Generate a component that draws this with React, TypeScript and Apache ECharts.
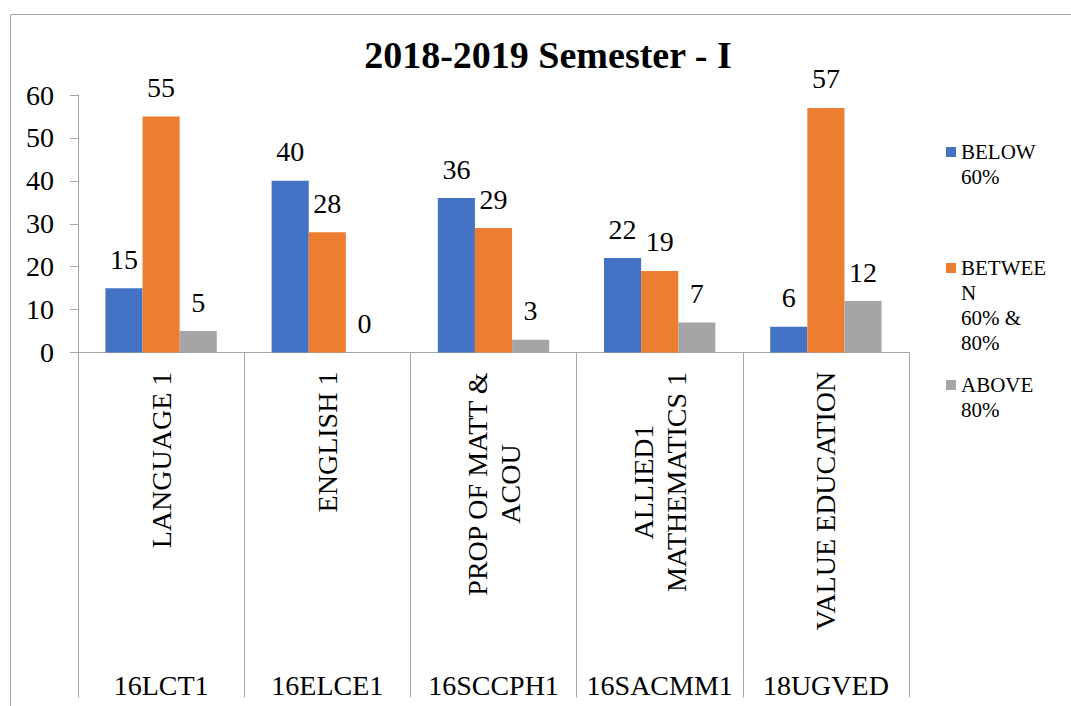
import React, { useEffect, useRef } from 'react';
import * as echarts from 'echarts';

const subjects = ['LANGUAGE 1', 'ENGLISH 1', 'PROP OF MATT &\nACOU', 'ALLIED1\nMATHEMATICS 1', 'VALUE EDUCATION'];
const codes = ['16LCT1', '16ELCE1', '16SCCPH1', '16SACMM1', '18UGVED'];
const seriesNames = ['BELOW 60%', 'BETWEEN 60% & 80%', 'ABOVE 80%'];
const legendLabels = ['BELOW\n60%', 'BETWEE\nN\n60% &\n80%', 'ABOVE\n80%'];
const below60 = [15, 40, 36, 22, 6];
const between60and80 = [55, 28, 29, 19, 57];
const above80 = [5, 0, 3, 7, 12];
const seriesColors = ['#4472C4', '#ED7D31', '#A5A5A5'];
const yMin = 0;
const yMax = 60;
const yInterval = 10;

const FONT = 'Liberation Serif';
const AXIS_GRAY = '#A6A6A6';

function measure(text: string, font: string): number {
  const ctx = document.createElement('canvas').getContext('2d');
  if (!ctx) return text.length * 14;
  ctx.font = font;
  return ctx.measureText(text).width;
}

export default function App() {
  const ref = useRef<HTMLDivElement>(null);

  useEffect(() => {
    if (!ref.current) return;
    const chart = echarts.init(ref.current, undefined, { renderer: 'svg' });

    const rich: Record<string, any> = {};
    subjects.forEach((s, i) => {
      const w = Math.max(...s.split('\n').map((l) => measure(l, `28px "${FONT}"`)));
      rich['l' + i] = {
        width: Math.ceil(w) + 2,
        align: 'center',
        fontSize: 28,
        lineHeight: 33,
        fontFamily: FONT,
        color: '#000',
      };
    });

    const LH = 25;
    const firstLineCenters = [152, 268, 385];
    const legends = seriesNames.map((name, i) => {
      const lines = legendLabels[i].split('\n');
      const n = lines.length;
      const padded = new Array(n - 1).fill(' ').concat(lines).join('\n');
      return {
        show: true,
        data: [name],
        left: 946,
        top: firstLineCenters[i] - ((2 * n - 1) * LH) / 2,
        orient: 'vertical',
        padding: 0,
        itemWidth: 10,
        itemHeight: 10,
        itemGap: 0,
        itemStyle: { borderWidth: 0 },
        icon: 'rect',
        selectedMode: false,
        formatter: () => padded,
        textStyle: {
          fontSize: 21,
          lineHeight: LH,
          fontFamily: FONT,
          color: '#000',
        },
      };
    });

    const values = [below60, between60and80, above80];

    chart.setOption({
      animation: false,
      backgroundColor: '#fff',
      textStyle: { fontFamily: FONT },
      title: {
        text: '2018-2019 Semester - I',
        left: 548,
        top: 36,
        padding: 0,
        textAlign: 'center',
        textStyle: { fontSize: 38, fontWeight: 'bold', fontFamily: FONT, color: '#000' },
      },
      legend: legends,
      graphic: [
        {
          type: 'rect',
          shape: { x: 10.5, y: 14.5, width: 1200, height: 800 },
          style: { fill: 'none', stroke: AXIS_GRAY, lineWidth: 1 },
          silent: true,
          z: -10,
        },
      ],
      grid: { left: 78, right: 162, top: 95, bottom: 353.5 },
      xAxis: [
        {
          type: 'category',
          data: subjects,
          position: 'bottom',
          axisLine: { show: true, lineStyle: { color: AXIS_GRAY, width: 1 } },
          axisTick: { show: true, interval: 0, length: 345, lineStyle: { color: AXIS_GRAY, width: 1 } },
          axisLabel: {
            interval: 0,
            rotate: 90,
            margin: 18,
            fontSize: 28,
            fontFamily: FONT,
            color: '#000',
            formatter: (v: string, idx: number) =>
              v.split('\n').map((l) => `{l${idx}|${l}}`).join('\n'),
            rich,
          },
          splitLine: { show: false },
        },
        {
          type: 'category',
          data: codes,
          position: 'bottom',
          axisLine: { show: false },
          axisTick: { show: false },
          axisLabel: {
            interval: 0,
            margin: 333,
            verticalAlign: 'middle',
            fontSize: 28,
            fontFamily: FONT,
            color: '#000',
          },
          splitLine: { show: false },
        },
      ],
      yAxis: {
        type: 'value',
        min: yMin,
        max: yMax,
        interval: yInterval,
        axisLine: { show: true, lineStyle: { color: AXIS_GRAY, width: 1 } },
        axisTick: { show: true, length: 8, lineStyle: { color: AXIS_GRAY, width: 1 } },
        axisLabel: { margin: 24, fontSize: 28, fontFamily: FONT, color: '#000' },
        splitLine: { show: false },
      },
      series: seriesNames.map((name, i) => ({
        name,
        type: 'bar',
        xAxisIndex: 0,
        data: values[i],
        barGap: '0%',
        barCategoryGap: '33%',
        itemStyle: { color: seriesColors[i] },
        label: {
          show: true,
          position: 'top',
          distance: 15,
          fontSize: 28,
          fontFamily: FONT,
          color: '#000',
        },
        emphasis: { disabled: true },
      })),
    });

    return () => chart.dispose();
  }, []);

  return (
    <div
      ref={ref}
      style={{ position: 'absolute', left: 0, top: 0, width: 1071, height: 706 }}
    />
  );
}
